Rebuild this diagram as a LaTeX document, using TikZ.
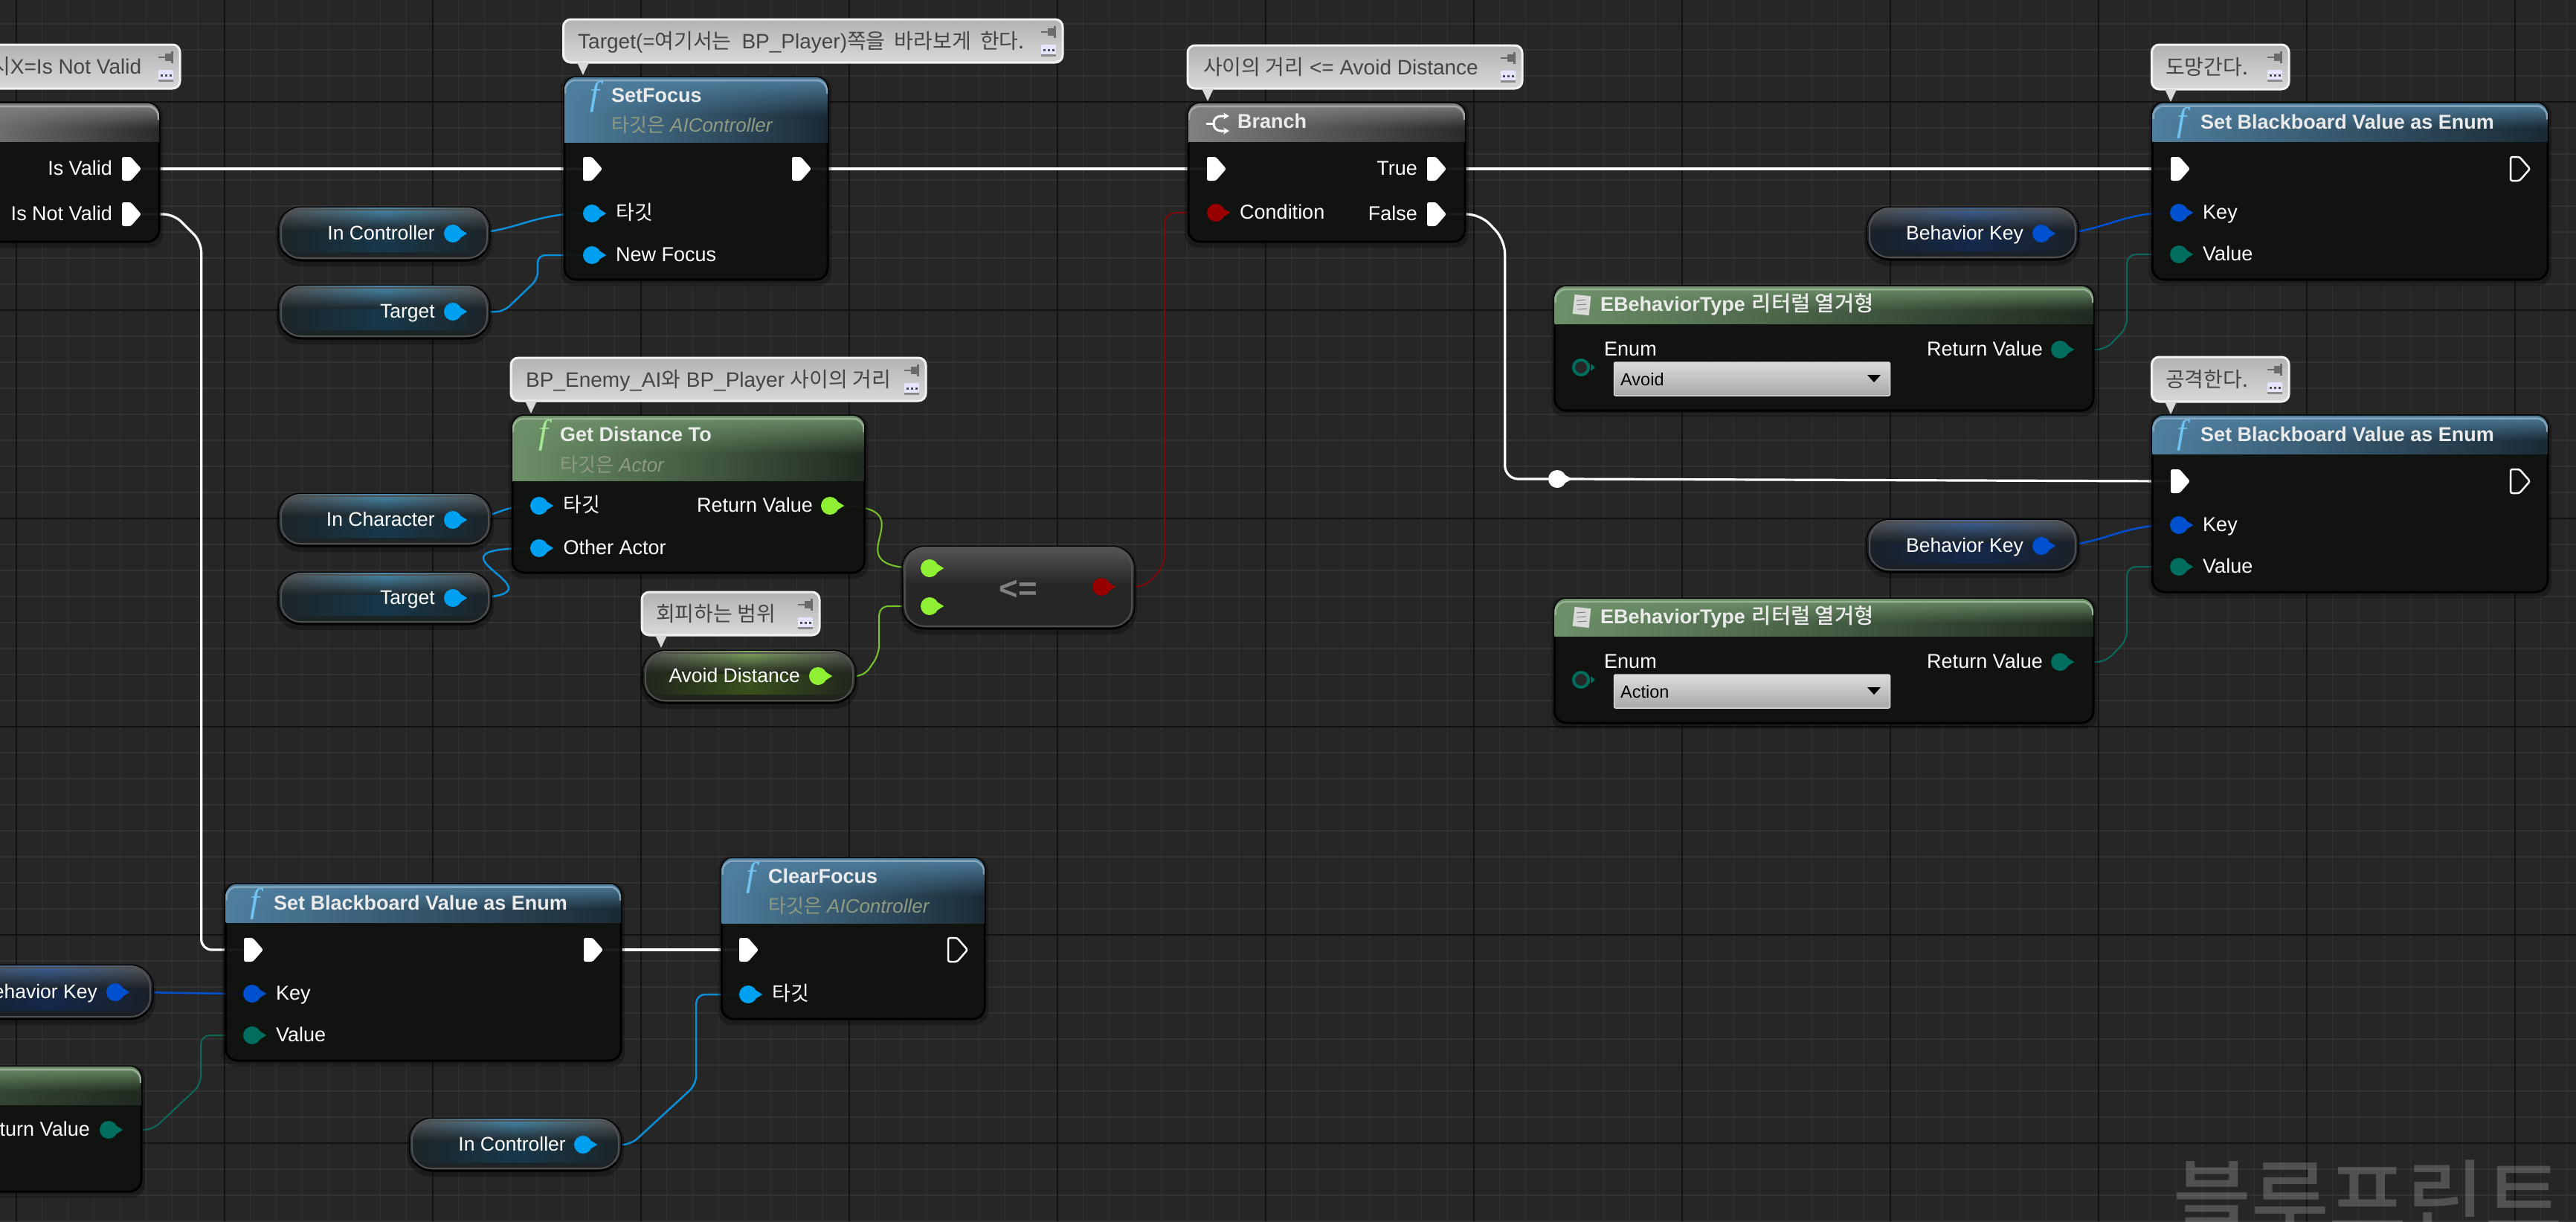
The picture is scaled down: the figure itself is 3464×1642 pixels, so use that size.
\documentclass[tikz,border=0pt]{standalone}
\usepackage{fontspec}
\usetikzlibrary{fadings,arrows.meta}
\setmainfont{Liberation Sans}
\newfontfamily\krfont{Noto Sans CJK KR}
\newfontfamily\krmed{Noto Sans CJK KR Medium}
\newfontfamily\fserif{Liberation Serif}
\newcommand\kr[1]{{\krfont #1}}
\definecolor{pinblue}{HTML}{00A0F0}
\definecolor{wireblue}{HTML}{0A8FD8}
\definecolor{keyblue}{HTML}{0050D0}
\definecolor{teal2}{HTML}{006E5E}
\definecolor{wireteal}{HTML}{0B6A5C}
\definecolor{pingreen}{HTML}{90F034}
\definecolor{wiregreen}{HTML}{78C828}
\definecolor{pinred}{HTML}{980000}
\definecolor{wirered}{HTML}{800A0A}
\definecolor{bluehead}{HTML}{4F7F9F}
\definecolor{bluedark}{HTML}{1A2A34}
\definecolor{greenhead}{HTML}{6C9068}
\definecolor{greendark}{HTML}{202A20}
\definecolor{grayhead}{HTML}{808080}
\definecolor{graydark}{HTML}{2A2A2A}
\definecolor{bodyfill}{HTML}{111311}
\definecolor{subtxt}{HTML}{8F9A80}
\definecolor{cmttxt}{HTML}{454545}
\definecolor{vbase}{HTML}{1C2428}
\definecolor{vtop}{HTML}{4A90B4}
\definecolor{vlow}{HTML}{17384A}
\definecolor{kbase}{HTML}{1A2028}
\definecolor{ktop}{HTML}{40689E}
\definecolor{klow}{HTML}{14284A}
\definecolor{gbase}{HTML}{20261C}
\definecolor{gtop}{HTML}{86AC62}
\definecolor{glow}{HTML}{38501C}
\definecolor{ftint}{HTML}{70C4F4}
\definecolor{fgreen}{HTML}{A4E894}
\definecolor{vedge}{HTML}{505050}
\pgfdeclarelayer{gridl}
\pgfdeclarelayer{wires}
\pgfsetlayers{gridl,wires,main}
\tikzset{
  bodybox/.style={draw=black,line width=3,fill=bodyfill,fill opacity=.93,rounded corners=16,inner sep=0},
  varbox/.style={draw=black,line width=3,fill=#1,rounded corners=30,inner sep=0},
  lbl/.style={text=white,inner sep=0,font=\fontsize{27}{30}\selectfont},
  vartxt/.style={text=white,inner sep=0,font=\fontsize{26.5}{30}\selectfont},
  ttl/.style={text=white!92!black,inner sep=0,font=\bfseries\fontsize{27}{30}\selectfont},
  subt/.style={text=subtxt,inner sep=0,font=\fontsize{26}{30}\selectfont},
  cmtbox/.style={draw=white!95!black,line width=3,top color=white!70!black,bottom color=white!85!black,rounded corners=10,inner sep=0},
  cmtt/.style={text=cmttxt,inner sep=0,font=\fontsize{28}{32}\selectfont},
  execfilled/.style={fill=white},
  exechollow/.style={draw=white,line width=2.5},
  wexec/.style={draw=white,line width=3.2},
  wblue/.style={draw=wireblue,line width=2.5},
  wkey/.style={draw=keyblue,line width=2.5},
  wteal/.style={draw=wireteal,line width=2},
  wgreen/.style={draw=wiregreen,line width=2},
  wred/.style={draw=wirered,line width=2},
  gminor/.style={draw=white!20!black,line width=1.2},
  gmajor/.style={draw=white!7!black,line width=1.6}
}
% name x1 y1 x2 y2 headerbottom accent dark
\newcommand\bpnode[8]{%
  \fill[black,opacity=.28,rounded corners=18] ({(#2)-5},{(#3)-2}) rectangle ({(#4)+5},{(#5)+8});
  \node[bodybox,minimum width={(#4)-(#2)},minimum height={(#5)-(#3)}] (#1) at ({((#2)+(#4))/2},{((#3)+(#5))/2}) {};
  \begin{scope}
    \clip[rounded corners=16] ({#2},{#3}) rectangle ({#4},{#5});
    \shade[left color=#7,right color=#8] ({#2},{#3}) rectangle ({#4},{#6});
    \fill[#7,path fading=south] ({#2},{#3}) rectangle ({#4},{((#3)+(#6))/2+8});
    \draw[#7!70!white,line width=2.5,rounded corners=14] ({(#2)+1},{(#3)+22}) -- ({(#2)+1},{(#3)+4}) -- ({(#4)-1},{(#3)+4}) -- ({(#4)-1},{(#3)+22});
  \end{scope}
}
% name x1 y1 x2 y2 accent lowerband base
\newcommand\varnode[8]{%
  \fill[black,opacity=.28,rounded corners=32] ({(#2)-4},{(#3)-1}) rectangle ({(#4)+4},{(#5)+8});
  \node[varbox=#8,minimum width={(#4)-(#2)},minimum height={(#5)-(#3)}] (#1) at ({((#2)+(#4))/2},{((#3)+(#5))/2}) {};
  \begin{scope}
    \clip[rounded corners=30] ({#2},{#3}) rectangle ({#4},{#5});
    \shade[left color=white!34!black,right color=white!34!black,middle color=#6] ({#2},{#3}) rectangle ({#4},{((#3)+(#5))/2-4});
    \fill[#8,path fading=north] ({#2},{#3}) rectangle ({#4},{((#3)+(#5))/2-4});
    \shade[left color=#8,right color=#8,middle color=#7] ({#2},{((#3)+(#5))/2-4}) rectangle ({#4},{(#5)-12});
    \draw[vedge,line width=2,rounded corners=26] ({(#2)+3},{(#3)+3}) rectangle ({(#4)-3},{(#5)-3});
  \end{scope}
}
\newcommand\datapin[4]{%
  \node[circle,fill=#4,minimum size=24,inner sep=0] (#1) at ({#2},{#3}) {};
  \fill[#4] ([yshift=5pt,xshift=-1pt]#1.east) -- ++(8,5) -- ++(-8,5) -- cycle;
}
\newcommand\holpin[4]{%
  \node[circle,draw=#4,line width=4,fill=black!85,minimum size=20,inner sep=0] (#1) at ({#2},{#3}) {};
  \fill[#4] ([yshift=5pt,xshift=1pt]#1.east) -- ++(6,5) -- ++(-6,5) -- cycle;
}
\newcommand\execpin[4]{%
  \node[inner sep=0,minimum width=27,minimum height=32] (#1) at ({#2},{#3}) {};
  \path[#4,shift={(#1.center)},rounded corners=2.5] (-13,-16) -- (-1,-16) -- (13,0) -- (-1,16) -- (-13,16) -- cycle;
}
\newcommand\lblL[4]{\node[lbl,anchor=base west] (#1) at ({#2},{(#3)+8.5}) {#4};}
\newcommand\lblR[4]{\node[lbl,anchor=base east] (#1) at ({#2},{(#3)+8.5}) {#4};}
\newcommand\ficon[4]{\node[inner sep=0,text=#4,font=\fserif\itshape\fontsize{46}{46}\selectfont] (#1) at ({#2},{#3}) {f};}
% name x1 y1 x2 y2 tipx textx text
\newcommand\cmt[8]{%
  \node[cmtbox,minimum width={(#4)-(#2)},minimum height={(#5)-(#3)}] (#1) at ({((#2)+(#4))/2},{((#3)+(#5))/2}) {};
  \ifnum#6>0 \fill[white!85!black] ({(#6)-8},{#5}) -- ({#6},{(#5)+17}) -- ({(#6)+8},{#5}) -- cycle;\fi
  \node[cmtt,anchor=base west] (#1t) at ({#7},{((#3)+(#5))/2+10}) {#8};
  \fill[white!42!black] ({(#4)-29},{(#3)+16}) rectangle ({(#4)-20},{(#3)+18});
  \fill[white!42!black] ({(#4)-20},{(#3)+12}) rectangle ({(#4)-12},{(#3)+22});
  \fill[white!42!black] ({(#4)-12},{(#3)+9}) rectangle ({(#4)-9},{(#3)+25});
  \fill[white!90!blue,rounded corners=2] ({(#4)-29},{(#3)+34}) rectangle ({(#4)-9},{(#3)+48});
  \fill[white!55!black] ({(#4)-29},{(#3)+47}) rectangle ({(#4)-9},{(#3)+50});
  \foreach \dk in {-25,-19,-13} {\fill[white!30!black] ({(#4)+\dk-1.5},{(#3)+40}) rectangle ({(#4)+\dk+1.5},{(#3)+43});}
}
% prefix dx dy outstyle
\newcommand\bbnode[4]{%
  \bpnode{#1}{2894.5+(#2)}{138.5+(#3)}{3426+(#2)}{376+(#3)}{190+(#3)}{bluehead}{bluedark}
  \ficon{#1f}{2934+(#2)}{165+(#3)}{ftint}
  \node[ttl,anchor=base west] (#1t) at ({2959+(#2)},{173.5+(#3)}) {Set Blackboard Value as Enum};
  \execpin{#1in}{2932+(#2)}{227+(#3)}{execfilled}
  \execpin{#1out}{3389+(#2)}{227+(#3)}{#4}
  \datapin{#1key}{2930+(#2)}{286+(#3)}{keyblue}
  \datapin{#1val}{2930+(#2)}{342+(#3)}{teal2}
  \lblL{#1kl}{2962+(#2)}{286+(#3)}{Key}
  \lblL{#1vl}{2962+(#2)}{342+(#3)}{Value}
}
% prefix dy value
\newcommand\enumnode[3]{%
  \bpnode{#1}{2090.5}{385+(#2)}{2815}{552+(#2)}{435+(#2)}{greenhead}{greendark}
  \begin{scope}[shift={(0,#2)}]
    \fill[white!85!black,rotate around={-6:(2127,410)}] (2116,397) rectangle (2138,423);
    \draw[white!50!black,line width=1] (2120,404) -- (2132,403) (2120,410) -- (2133,409) (2121,416) -- (2134,415);
  \end{scope}
  \node[ttl,anchor=base west] (#1t) at (2152,{418.5+(#2)}) {EBehaviorType\hspace{9pt}{\krmed\mdseries\fontsize{28.5}{30}\selectfont 리터럴 열거형}};
  \holpin{#1pin}{2126}{494+(#2)}{teal2}
  \lblL{#1el}{2157}{470+(#2)}{Enum}
  \node[draw=white!85!black,line width=1.5,top color=white!86!black,bottom color=white!66!black,rounded corners=2,inner sep=0,minimum width=371,minimum height=45] (#1cb) at (2356,{509.5+(#2)}) {};
  \node[text=black,inner sep=0,anchor=base west,font=\fontsize{23.5}{26}\selectfont] (#1cv) at (2179,{518+(#2)}) {#3};
  \fill[black] (2511,{504+(#2)}) -- (2529,{504+(#2)}) -- (2520,{514+(#2)}) -- cycle;
  \lblR{#1rl}{2747}{470+(#2)}{Return Value}
  \datapin{#1ret}{2770}{470+(#2)}{teal2}
}
\newcommand\wire[4]{\draw[#1] (#2.east) .. controls +(#4,0) and +(-#4,0) .. (#3.west);}
\begin{document}
\begin{tikzpicture}[x=1pt,y=-1pt]
\useasboundingbox (0,0) rectangle (3464,1642);
\begin{pgfonlayer}{gridl}
  \fill[white!15!black] (0,0) rectangle (3464,1642);
  \foreach \i in {0,...,98} {\draw[gminor] ({21.7+35*\i},0) -- ({21.7+35*\i},1642);}
  \foreach \i in {0,...,46} {\draw[gminor] (0,{32+35*\i}) -- (3464,{32+35*\i});}
  \foreach \i in {0,...,12} {\draw[gmajor] ({21.7+280*\i},0) -- ({21.7+280*\i},1642);}
  \foreach \i in {0,...,5} {\draw[gmajor] (0,{137+280*\i}) -- (3464,{137+280*\i});}
  \node[anchor=base west,inner sep=0,text=white,text opacity=.2,font=\krmed\fontsize{114}{114}\selectfont] (wm) at (2922,1654) {블루프린트};
\end{pgfonlayer}

% comments
\cmt{c0}{-20}{60}{242}{119}{0}{-12}{\kr{시}X=Is Not Valid}
\cmt{c1}{757.5}{26}{1429}{84}{784}{777}{Target(=\kr{여기서는}\hspace{6pt} BP\_Player)\kr{쪽을\hspace{6pt} 바라보게\hspace{6pt} 한다.}}
\cmt{c2}{687}{481}{1245}{539}{714}{707}{BP\_Enemy\_AI\kr{와} BP\_Player \kr{사이의 거리}}
\cmt{c3}{1597}{61}{2047}{119}{1624}{1618}{\kr{사이의 거리} <= Avoid Distance}
\cmt{c4}{2893.5}{60}{3078}{120}{2919}{2912}{\kr{도망간다.}}
\cmt{c5}{2893.5}{480}{3078}{540}{2919}{2912}{\kr{공격한다.}}
\cmt{c6}{863}{796}{1102}{854}{889}{882}{\kr{회피하는 범위}}

% top-left node
\bpnode{nv}{-60}{139}{214}{325}{190}{grayhead}{graydark}
\lblR{nvl1}{151}{227}{Is Valid}
\lblR{nvl2}{151}{288}{Is Not Valid}
\execpin{nva}{177}{227}{execfilled}
\execpin{nvb}{177}{288}{execfilled}

% SetFocus
\bpnode{sf}{759}{104}{1113}{376}{191}{bluehead}{bluedark}
\ficon{sff}{800}{130}{ftint}
\node[ttl,anchor=base west] (sft) at (822,137.5) {SetFocus};
\node[subt,anchor=base west] (sfs) at (822,177.5) {\kr{타깃은} \itshape AIController};
\execpin{sfin}{797}{227}{execfilled}
\execpin{sfout}{1078}{227}{execfilled}
\datapin{sfa}{796}{287}{pinblue}
\datapin{sfb}{796}{343}{pinblue}
\lblL{sfal}{828}{287}{\kr{타깃}}
\lblL{sfbl}{828}{343}{New Focus}

% vars
\varnode{v1}{375}{279}{658}{350}{vtop}{vlow}{vbase}
\node[vartxt,anchor=base east] (v1t) at (585,322.5) {In Controller};
\datapin{v1p}{609}{314}{pinblue}
\varnode{v2}{375}{384}{658}{455}{vtop}{vlow}{vbase}
\node[vartxt,anchor=base east] (v2t) at (585,427.5) {Target};
\datapin{v2p}{609}{419}{pinblue}
\varnode{v3}{375}{664}{660}{734}{vtop}{vlow}{vbase}
\node[vartxt,anchor=base east] (v3t) at (585,707.5) {In Character};
\datapin{v3p}{609}{699}{pinblue}
\varnode{v4}{375}{770}{660}{839}{vtop}{vlow}{vbase}
\node[vartxt,anchor=base east] (v4t) at (585,812.5) {Target};
\datapin{v4p}{609}{804}{pinblue}
\varnode{v5}{865}{875}{1150}{945}{gtop}{glow}{gbase}
\node[vartxt,anchor=base east] (v5t) at (1076,917.5) {Avoid Distance};
\datapin{v5p}{1100}{909}{pingreen}

% Get Distance To
\bpnode{gd}{689}{559}{1162.5}{770}{646}{greenhead}{greendark}
\ficon{gdf}{731}{585}{fgreen}
\node[ttl,anchor=base west] (gdt) at (753,593.5) {Get Distance To};
\node[subt,anchor=base west] (gds) at (753,634) {\kr{타깃은} \itshape Actor};
\datapin{gda}{725}{680}{pinblue}
\datapin{gdb}{725}{737}{pinblue}
\lblL{gdal}{757.5}{680}{\kr{타깃}}
\lblL{gdbl}{757.5}{737}{Other Actor}
\lblR{gdrl}{1093}{680}{Return Value}
\datapin{gdr}{1116}{680}{pingreen}

% compare
\varnode{cp}{1214}{735}{1525}{845}{white!34!black}{white!15!black}{white!15!black}
\node[inner sep=0,text=white!50!black,font=\bfseries\fontsize{44}{44}\selectfont] (cpt) at (1369,793) {<=};
\datapin{cpa}{1250}{764}{pingreen}
\datapin{cpb}{1250}{815}{pingreen}
\datapin{cpo}{1481}{789}{pinred}

% Branch
\bpnode{br}{1598}{139}{1970}{325}{190}{grayhead}{graydark}
\draw[white,line width=3] (1622,166) -- (1632,166);
\draw[white,line width=3,-{Stealth[length=8pt,width=9pt]}] (1632,166) .. controls (1632,160) and (1636,156) .. (1642,156) -- (1653,156);
\draw[white,line width=3,-{Stealth[length=8pt,width=9pt]}] (1632,166) .. controls (1632,172) and (1636,176) .. (1642,176) -- (1653,176);
\node[ttl,anchor=base west] (brt) at (1664,172.5) {Branch};
\execpin{brin}{1636}{227}{execfilled}
\datapin{brc}{1635}{286}{pinred}
\lblL{brcl}{1667}{286}{Condition}
\lblR{brtl}{1906}{227}{True}
\lblR{brfl}{1906}{288}{False}
\execpin{brtp}{1932}{227}{execfilled}
\execpin{brfp}{1932}{288}{execfilled}

% blackboard nodes
\bbnode{b1}{0}{0}{exechollow}
\bbnode{b2}{0}{420}{exechollow}
\bbnode{b3}{-2591}{1050}{execfilled}
\varnode{k1}{2511}{279}{2794}{349}{ktop}{klow}{kbase}
\node[vartxt,anchor=base east] (k1t) at (2721,322.5) {Behavior Key};
\datapin{k1p}{2745}{314}{keyblue}
\varnode{k2}{2511}{699}{2794}{769}{ktop}{klow}{kbase}
\node[vartxt,anchor=base east] (k2t) at (2721,742.5) {Behavior Key};
\datapin{k2p}{2745}{734}{keyblue}
\varnode{k3}{-78}{1298}{205}{1370}{ktop}{klow}{kbase}
\node[vartxt,anchor=base east] (k3t) at (131,1342.5) {Behavior Key};
\datapin{k3p}{155}{1334}{keyblue}

% enums
\enumnode{e1}{0}{Avoid}
\enumnode{e2}{420}{Action}
\bpnode{e3}{-535}{1434}{190}{1602}{1485}{greenhead}{greendark}
\lblR{e3rl}{121}{1519}{Return Value}
\datapin{e3ret}{146}{1519}{teal2}

% ClearFocus
\bpnode{cf}{970.5}{1153.5}{1324}{1370}{1241}{bluehead}{bluedark}
\ficon{cff}{1010}{1180}{ftint}
\node[ttl,anchor=base west] (cft) at (1033,1187.5) {ClearFocus};
\node[subt,anchor=base west] (cfs) at (1033,1227) {\kr{타깃은} \itshape AIController};
\execpin{cfin}{1007}{1277}{execfilled}
\execpin{cfout}{1288}{1277}{exechollow}
\datapin{cfa}{1006}{1337}{pinblue}
\lblL{cfal}{1038}{1337}{\kr{타깃}}
\varnode{v6}{551}{1504}{835}{1574}{vtop}{vlow}{vbase}
\node[vartxt,anchor=base east] (v6t) at (761,1547.5) {In Controller};
\datapin{v6p}{784}{1539}{pinblue}

% knot
\node[circle,fill=white,minimum size=24,inner sep=0] (kn) at (2094,644) {};
\fill[white] ([yshift=5pt,xshift=-1pt]kn.east) -- ++(9,5) -- ++(-9,5) -- cycle;

\begin{pgfonlayer}{wires}
  \draw[wexec] (nva.east) -- (sfin.west);
  \draw[wexec,rounded corners=14] (nvb.east) -- ++(43,0) -- ++(37,37) |- (b3in.west);
  \draw[wexec] (sfout.east) -- (brin.west);
  \draw[wexec] (brtp.east) -- (b1in.west);
  \draw[wexec,rounded corners=18] (brfp.east) -- ++(45,0) -- ++(33,35) |- (kn.west);
  \draw[wexec] (kn.east) -- (b2in.west);
  \draw[wexec] (b3out.east) -- (cfin.west);
  \wire{wblue}{v1p}{sfa}{70}
  \draw[wblue,rounded corners=10] (v2p.east) -- ++(56,0) -- ++(46,-44) |- (sfb.west);
  \wire{wblue}{v3p}{gda}{40}
  \wire{wblue}{v4p}{gdb}{170}
  \wire{wgreen}{gdr}{cpa}{130}
  \draw[wgreen,rounded corners=12] (v5p.east) -- ++(50,0) -- ++(20,-30) |- (cpb.west);
  \draw[wred,rounded corners=14] (cpo.east) -- ++(47,0) -- ++(26,-30) |- (brc.west);
  \wire{wkey}{k1p}{b1key}{70}
  \wire{wkey}{k2p}{b2key}{70}
  \wire{wkey}{k3p}{b3key}{40}
  \draw[wteal,rounded corners=12] (e1ret.east) -- ++(49,0) -- ++(29,-30) |- (b1val.west);
  \draw[wteal,rounded corners=12] (e2ret.east) -- ++(49,0) -- ++(29,-30) |- (b2val.west);
  \draw[wteal,rounded corners=12] (e3ret.east) -- ++(47,0) -- ++(65,-61) |- (b3val.west);
  \draw[wblue,rounded corners=12] (v6p.east) -- ++(52,0) -- ++(88,-81) |- (cfa.west);
\end{pgfonlayer}
\end{tikzpicture}
\end{document}
